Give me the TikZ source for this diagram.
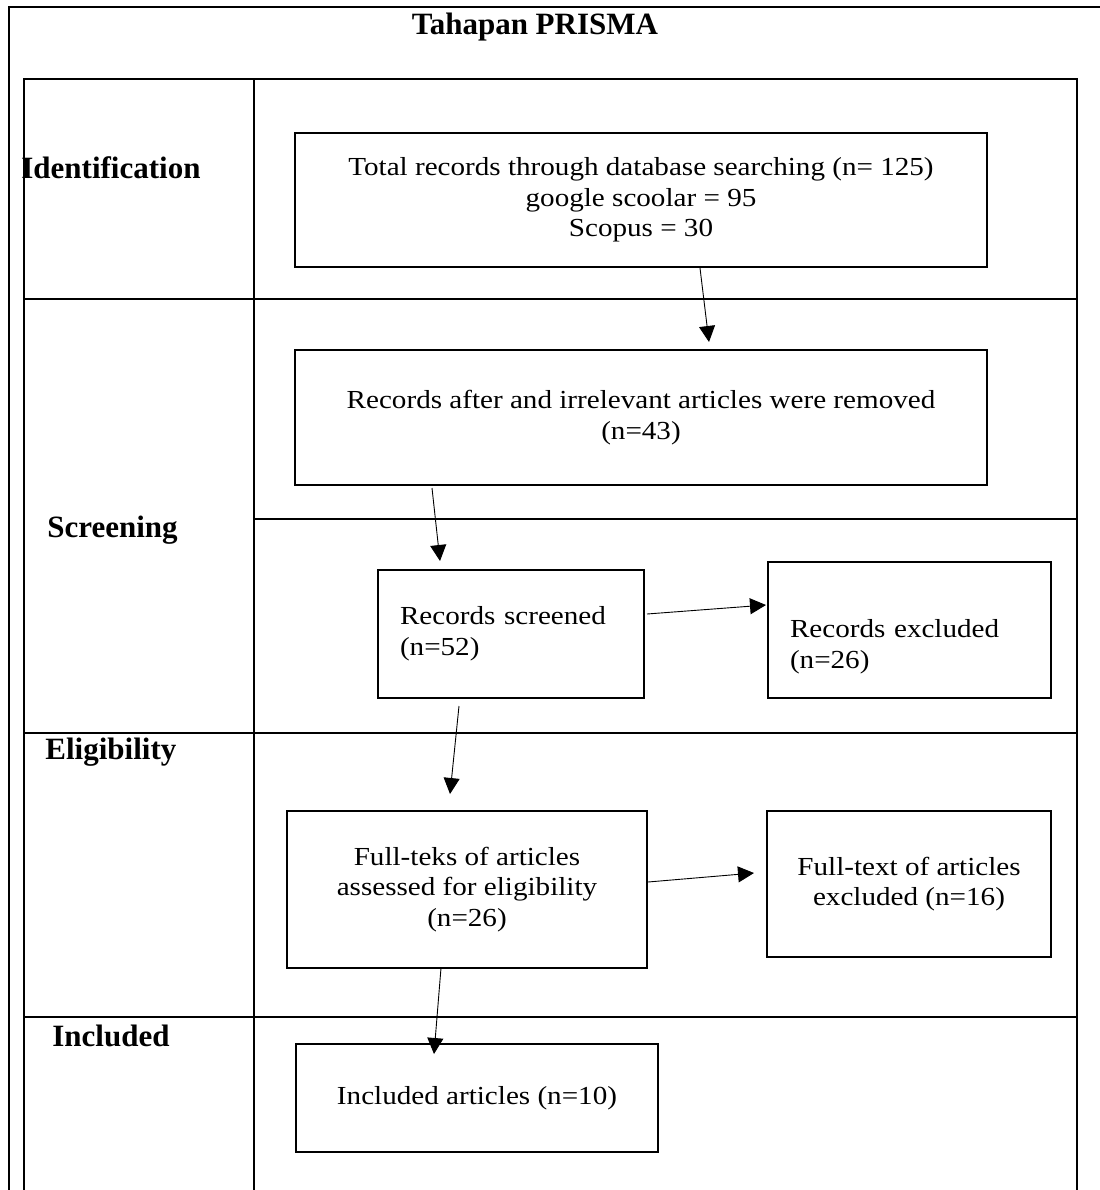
\documentclass[tikz,border=0pt]{standalone}
\usepackage{fontspec}
\setmainfont{Liberation Serif}
\newfontfamily\boxfont{Liberation Serif}[FakeStretch=1.12]
\usepackage{tikz}
\usetikzlibrary{arrows.meta,calc,positioning}
\tikzstyle{prismabox} = [draw=black, line width=1pt, inner sep=0pt, align=center,
font=\boxfont\fontsize{13}{15.3}\selectfont]
\tikzstyle{stage} = [anchor=west, inner sep=0pt, font=\fontsize{15.5}{18}\selectfont\bfseries]
\tikzstyle{tableline} = [line width=0.8pt]
\tikzstyle{arrow} = [line width=0.45pt,-{Triangle[length=8pt,width=8pt]}]

\begin{document}
\begin{tikzpicture}[x=0.5pt,y=-0.5pt]
            \useasboundingbox (0,0) rectangle (1099,1190);
            % frame and table
            \draw[tableline] (9,1190) -- (9,7) -- (1105,7);
            \draw[tableline] (24,1190) -- (24,79) -- (1077,79) -- (1077,1190);
            \draw[tableline] (254,79) -- (254,1190);
            \draw[tableline] (24,299) -- (1077,299);
            \draw[tableline] (254,519) -- (1077,519);
            \draw[tableline] (24,733) -- (1077,733);
            \draw[tableline] (24,1017) -- (1077,1017);
            \node[stage, anchor=center] (title) at (535,27) {Tahapan PRISMA};
            \node[stage] (identification) at (21,168) {Identification};
            \node[stage] (screening) at (47,530) {Screening};
            \node[stage] (eligibility) at (45,752) {Eligibility};
            \node[stage] (included-lbl) at (52,1036) {Included};
            % boxes
            \node[prismabox, minimum width=346pt, minimum height=67pt] (total)
            at (641,200) {Total records through database searching (n= 125)\\
            google scoolar = 95\\ Scopus = 30};
            \node[prismabox, minimum width=346pt, minimum height=67.5pt] (after)
            at (641,417.5) {Records after and irrelevant articles were removed\\ (n=43)};
            \node[prismabox, minimum height=64pt, align=left, text width=111pt,
            inner xsep=11pt] (screened) at (511,634) {Records screened\\ (n=52)};
            \node[prismabox, minimum height=68pt, align=left, text width=119.5pt,
            inner xsep=11pt] (excluded) at (909.5,630) {\strut\\ Records excluded\\ (n=26)};
            \node[prismabox, minimum width=180pt, minimum height=78.5pt] (fullteks)
            at (467,889.5) {Full-teks of articles\\ assessed for eligibility\\ (n=26)};
            \node[prismabox, minimum width=142pt, minimum height=73pt] (fullexcl)
            at (909,884) {Full-text of articles\\ excluded (n=16)};
            \node[prismabox, minimum width=181pt, minimum height=54pt] (included)
            at (477,1098) {Included articles (n=10)};
            % arrows
            \draw[arrow] ($(total.south)+(59,0)$) -- ($(after.north)+(68,-7)$);
            \draw[arrow] ($(after.south)+(-209,2)$) -- ($(screened.north)+(-71,-8)$);
            \draw[arrow] ($(screened.east)+(2,-20)$) -- ($(excluded.west)+(-1,-25)$);
            \draw[arrow] ($(screened.south)+(-52,7)$) -- ($(fullteks.north)+(-17,-16)$);
            \draw[arrow] ($(fullteks.east)+(0,-7.5)$) -- ($(fullexcl.west)+(-12,-11)$);
            \draw[arrow] ($(fullteks.south)+(-26,-1)$) -- ($(included.north)+(-43,11)$);
\end{tikzpicture}
\end{document}
